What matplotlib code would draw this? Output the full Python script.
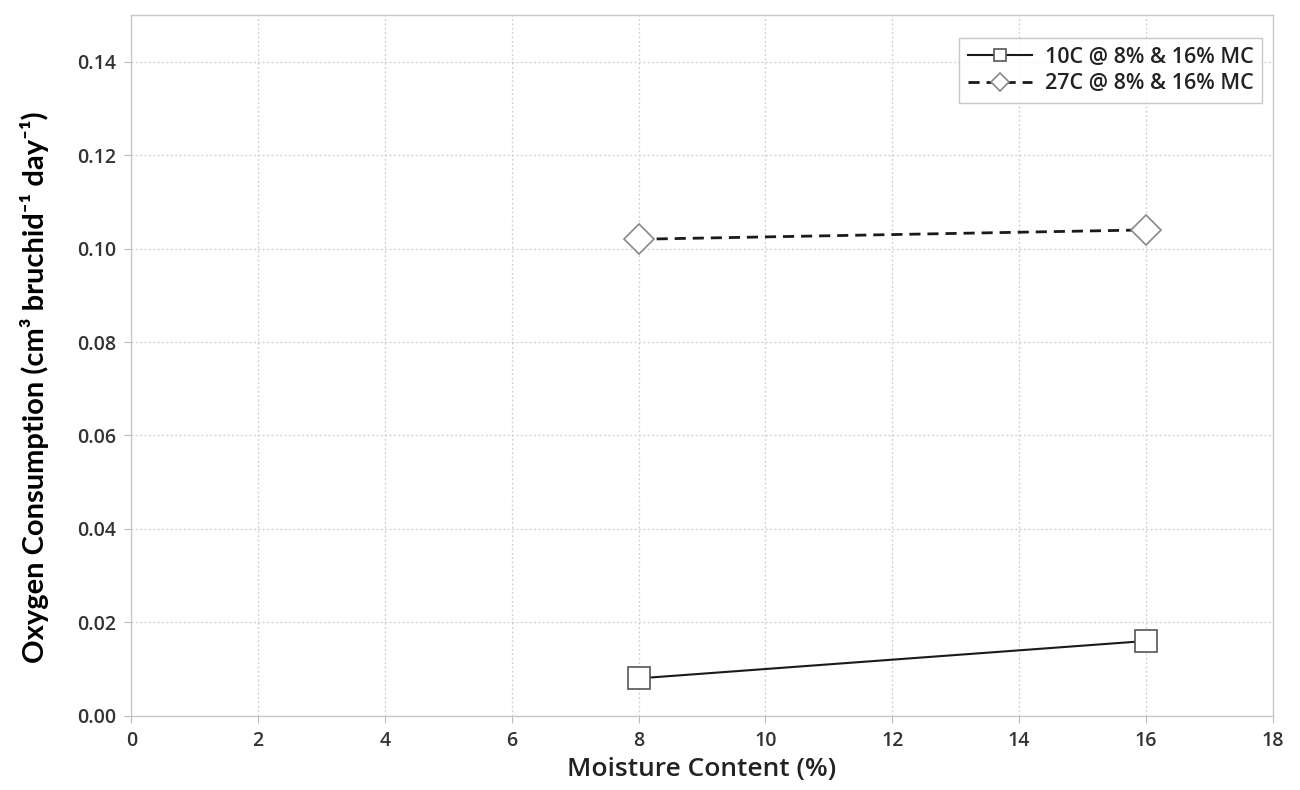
import matplotlib
matplotlib.use("Agg")
import matplotlib.pyplot as plt

moisture = [8, 16]
o2_10c = [0.008, 0.016]
o2_27c = [0.102, 0.104]
labels = ["10C @ 8% & 16% MC", "27C @ 8% & 16% MC"]
x_ticks = [0, 2, 4, 6, 8, 10, 12, 14, 16, 18]
y_ticks = [0.00, 0.02, 0.04, 0.06, 0.08, 0.10, 0.12, 0.14]

plt.rcParams["font.family"] = ["Open Sans", "DejaVu Sans"]

fig = plt.figure(figsize=(13, 7.9), dpi=100, facecolor="white")
ax = fig.add_axes([0.101, 0.094, 0.878, 0.887])

ax.plot(moisture, o2_10c, color="#1a1a1a", lw=1.5, ls="-", marker="s", ms=15.5,
        mfc="white", mec="#555555", mew=1.2, label=labels[0], zorder=3)
ax.plot(moisture, o2_27c, color="#1a1a1a", lw=2.0, ls=(0, (4, 2.5)), marker="D", ms=15,
        mfc="white", mec="#888888", mew=1.2, label=labels[1], zorder=3)

ax.set_xlim(0, 18)
ax.set_ylim(0, 0.15)
ax.set_xticks(x_ticks)
ax.set_yticks(y_ticks)
ax.set_yticklabels([f"{v:.2f}" for v in y_ticks])
ax.tick_params(labelsize=14, labelcolor="#333333", color="#bbbbbb", length=5, width=0.8,
               direction="out", pad=6)
for t in ax.get_xticklabels() + ax.get_yticklabels():
    t.set_fontweight("semibold")

ax.grid(True, color="#cccccc", ls=(0, (1.5, 2)), lw=0.9)
for sp in ax.spines.values():
    sp.set_color("#c8c8c8")
    sp.set_linewidth(1.0)

ax.set_xlabel("Moisture Content (%)", fontsize=19, fontweight="semibold", color="#222222", labelpad=4)
ax.set_ylabel("Oxygen Consumption (cm\u00b3 bruchid\u207b\u00b9 day\u207b\u00b9)",
              fontsize=21, fontweight="bold", family=["Lato", "DejaVu Sans"], color="black")
ax.yaxis.set_label_coords(-0.072, 0.469)

leg = ax.legend(loc="upper right", bbox_to_anchor=(0.991, 0.967), borderaxespad=0,
                prop={"size": 15.5, "weight": "semibold"}, frameon=True,
                fancybox=False, edgecolor="#bbbbbb", handlelength=3.0, markerscale=0.6,
                borderpad=0.4, labelspacing=0.25, handletextpad=0.6)
leg.get_frame().set_linewidth(1.0)
for t in leg.get_texts():
    t.set_color("#222222")

fig.savefig("out.png", dpi=100)
